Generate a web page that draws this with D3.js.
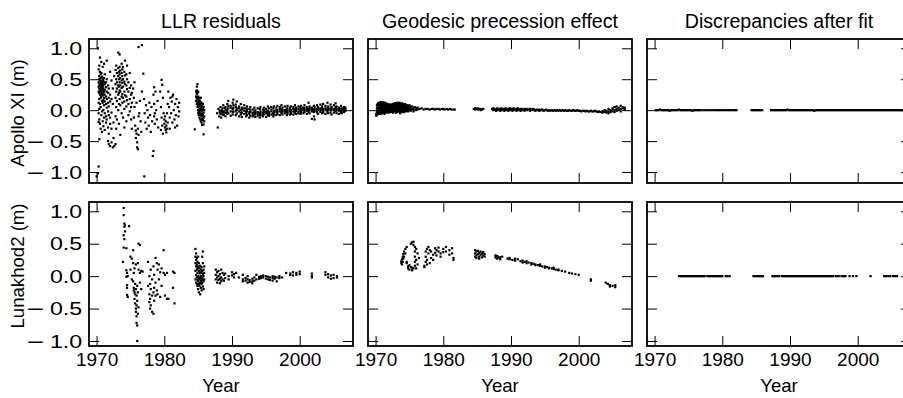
<!DOCTYPE html>
<html><head><meta charset="utf-8">
<script src="https://cdn.jsdelivr.net/npm/d3@7"></script>
<style>
body{margin:0;background:#fff}
svg{display:block}
text{font-family:"Liberation Sans",Arial,Helvetica,sans-serif;fill:#000}
</style>
</head><body>
<svg id="c" width="903" height="398"></svg>
<script>
// ---- labels / ticks ----
const panelTitles = ["LLR residuals", "Geodesic precession effect", "Discrepancies after fit"];
const rowLabels = ["Apollo XI (m)", "Lunakhod2 (m)"];
const xLabel = "Year";
const xTicks = [1970, 1980, 1990, 2000];
const yTicks = [-1, -0.5, 0, 0.5, 1];
const xDomain = [1968.88, 2007.87];
const yDomains = [[-1.177, 1.15], [-1.077, 1.143]];

// ---- data: [year, value, value, ...] (observations grouped by date) ----
const apolloRes = [
[1970.0,-1.07],[1970.2,1.0,-1.02],
[1970.3,-0.91,-0.19,0.66,0.45,0.38,0.30,0.12,-0.05],
[1970.4,-0.47,0.72,0.55,0.50,0.42,0.35,0.28,0.18,0.02,-0.15],
[1970.5,0.85,0.62,0.48,0.40,0.33,0.25,0.10,-0.22],
[1970.6,0.58,0.52,0.44,0.37,0.31,0.20,0.05,-0.30],
[1970.7,0.78,0.60,0.47,0.41,0.36,0.29,0.22,-0.08],
[1970.8,0.54,0.46,0.39,0.34,0.26,0.15,-0.02,-0.35],
[1970.9,0.70,0.50,0.43,0.38,0.32,0.24,0.12,-0.18],
[1971.0,0.48,0.40,0.35,0.28,0.16,0.0,-0.26],
[1971.1,0.75,0.52,0.45,0.30,0.20,0.08,-0.12],
[1971.2,0.58,0.42,0.33,0.25,0.14,-0.05,-0.32],
[1971.4,0.45,0.37,0.22,0.10,-0.10,-0.2],
[1971.5,0.80,0.50,0.30,0.18,0.04,-0.15],
[1971.7,0.40,0.28,0.12,-0.02,-0.28,-0.50],
[1971.8,0.35,0.20,0.06,-0.08,-0.38,-0.55],
[1972.0,0.62,0.25,0.14,-0.12,-0.22,-0.58],
[1972.2,0.48,0.18,-0.04,-0.30,-0.52],
[1972.4,0.35,0.1,-0.6],[1972.5,-0.45,-0.2],[1972.6,-0.58,0.55],
[1972.8,0.65,0.42,0.2,-0.1,-0.55],
[1972.9,0.72,0.5,0.3,0.05,-0.3],
[1973.0,0.6,0.45,0.35,0.15,-0.15],
[1973.2,0.93,0.68,0.55,0.4,0.25,0.0],
[1973.3,0.62,0.5,0.38,0.28,0.1,-0.22],
[1973.4,0.9,0.7,0.58,0.45,0.32,0.18],
[1973.5,0.64,0.52,0.4,0.3,0.08,-0.4],
[1973.7,0.75,0.6,0.48,0.36,0.22,-0.05],
[1973.8,0.66,0.55,0.44,0.26,0.12],
[1973.9,0.7,0.5,0.38,0.2,-0.12],
[1974.1,0.62,0.46,0.3,0.14,0.02,-0.28],
[1974.2,0.8,0.56,0.42,0.24],
[1974.4,0.58,0.4,0.22,0.06,-0.18],
[1974.5,0.72,0.5,0.34,0.16],
[1974.7,0.45,0.3,0.1,-0.08],
[1974.9,0.6,0.36,0.18,-0.02],
[1975.1,0.4,0.25,0.05,-0.15],
[1975.2,0.28,0.12,-0.3],
[1975.4,0.35],[1975.5,0.2,-0.12],[1975.6,0.05,0.45],[1975.7,-0.25],[1975.8,-0.33,-0.45],
[1975.9,-0.38,0.12],[1976.0,-0.52,-0.6],[1976.1,-0.63,-0.3],[1976.2,1.02,-0.4,-0.1],
[1976.3,-0.05],[1976.4,0.15],[1976.5,-0.18],[1976.6,-0.35],[1976.7,1.05,0.3],[1976.9,0.59],
[1977.0,0.18],[1977.05,-1.07],[1977.1,-0.05],[1977.2,-0.2],[1977.3,0.08],[1977.4,-0.3],
[1977.5,0.0],[1977.6,-0.12],[1977.7,-0.25],[1977.8,0.12],[1977.9,-0.08],[1978.0,-0.35],
[1978.1,0.05],[1978.2,-0.18],[1978.3,-0.74],[1978.4,-0.66,0.25],[1978.5,0.37,0.1,-0.1],
[1978.6,-0.22,-0.05],[1978.7,0.3],[1978.8,0.0],[1978.9,-0.15],[1979.0,0.15],[1979.1,-0.28],
[1979.4,0.3],[1979.5,0.05,-0.32],[1979.6,0.49,-0.12],[1979.7,0.41,-0.25],[1979.8,0.2,-0.38],
[1979.9,-0.05],[1980.0,-0.15,-0.22],[1980.1,-0.28,-0.1],[1980.2,-0.32,-0.18],[1980.3,-0.25,-0.36],
[1980.4,-0.05,-0.3],[1980.5,0.1,-0.2],[1980.6,0.3],[1980.7,0.05],[1980.8,-0.12,-0.3],[1980.9,0.2],
[1981.0,-0.05],[1981.1,0.14],[1981.2,-0.2,0.22],[1981.3,0.25],[1981.4,0.0],[1981.5,-0.15],
[1981.6,0.1,-0.28],[1981.7,-0.08],[1981.8,0.18],[1981.9,-0.25],[1982.0,0.05],[1982.1,-0.1],[1982.2,0.12,-0.02],
[1984.5,-0.31],
[1984.7,0.3,0.22,0.15],[1984.8,0.38,0.32,0.26,0.2,0.1],[1984.9,0.42,0.28,0.18,0.12,0.05],
[1985.0,0.3,0.22,0.14,0.08,0.0,-0.05],[1985.1,0.2,0.12,0.06,-0.02,-0.08],[1985.2,0.16,0.1,0.03,-0.04,-0.12],
[1985.3,0.14,0.07,0.0,-0.06,-0.15],[1985.4,0.2,0.1,0.02,-0.08,-0.18],[1985.5,0.12,0.05,-0.02,-0.1,-0.2],
[1985.6,0.08,0.0,-0.06,-0.14,-0.24],[1985.7,0.1,0.02,-0.08,-0.16],[1985.8,0.05,-0.04,-0.12,-0.23,-0.39],
[1985.9,0.0,-0.1,-0.18],
[1987.8,-0.05],[1987.9,-0.28],[1988.0,0.02],[1988.1,-0.1],
[1988.2,-0.04,-0.01],[1988.3,0.05,-0.06],[1988.4,-0.12,-0.02],[1988.5,0.0,-0.05],[1988.6,-0.07,0.03],[1988.7,0.08,-0.03],[1988.8,-0.02,-0.08],[1988.9,0.04,-0.04],
[1989.05,0.05,-0.04,-0.10,0.01],[1989.3,0.10,0.0,-0.06,-0.03],[1989.45,0.15,0.03,-0.05,0.07],[1989.8,0.07,-0.02,-0.09,0.04],
[1990.1,0.12,0.02,-0.07,-0.02],[1990.2,0.17,0.04,-0.03,0.08],[1990.55,0.09,-0.01,-0.08,0.05],[1990.7,0.14,0.03,-0.05,0.0],
[1991.05,0.06,-0.02,-0.1,0.03],[1991.3,0.1,0.0,-0.07,-0.04],[1991.45,0.04,-0.04,-0.11,0.01],[1991.8,0.08,-0.01,-0.06,0.03],
[1992.1,0.03,-0.05,-0.1,-0.02],[1992.2,0.06,-0.02,-0.08,0.01],[1992.55,0.02,-0.06,-0.12,-0.03],[1992.7,0.05,-0.03,-0.09,0.0],
[1993.05,0.01,-0.04,-0.1,-0.07],[1993.3,0.04,-0.02,-0.08,-0.05],[1993.45,0.0,-0.06,-0.11,-0.03],[1993.8,0.03,-0.03,-0.09,-0.06],
[1994.1,0.02,-0.05,-0.12,-0.08],[1994.2,0.05,-0.02,-0.08,-0.05],[1994.55,0.01,-0.04,-0.1,-0.07],[1994.7,0.04,-0.03,-0.07,0.0],
[1995.05,0.02,-0.05,-0.11,-0.02],[1995.3,0.06,-0.01,-0.08,-0.04],[1995.45,0.03,-0.03,-0.09,-0.06],[1995.8,0.05,-0.02,-0.07,0.01],
[1996.1,0.03,-0.04,-0.1,-0.06],[1996.2,0.06,-0.01,-0.07,-0.04],[1996.55,0.04,-0.03,-0.08,0.0],[1996.7,0.07,0.0,-0.06,-0.03],
[1997.05,0.05,-0.02,-0.08,0.02],[1997.3,0.08,0.01,-0.05,-0.02],[1997.45,0.04,-0.02,-0.07,0.0],[1997.8,0.06,0.0,-0.05,-0.03],
[1998.1,0.03,-0.03,-0.08,0.0],[1998.2,0.07,0.01,-0.05,-0.02],[1998.55,0.04,-0.02,-0.07,0.02],[1998.7,0.06,0.0,-0.06,-0.03],
[1999.05,0.05,-0.02,-0.07,0.02],[1999.3,0.08,0.01,-0.04,-0.02],[1999.45,0.04,-0.01,-0.06,0.02],[1999.8,0.06,0.02,-0.05,-0.02],
[2000.1,0.05,-0.01,-0.06,0.02],[2000.2,0.07,0.02,-0.04,-0.01],[2000.55,0.04,0.0,-0.05,0.03],[2000.7,0.08,0.03,-0.03,0.0],
[2001.05,0.05,-0.01,-0.06,0.02],[2001.3,0.12,0.02,-0.04,-0.01],[2001.45,0.06,0.0,-0.05,0.03],[2001.8,0.04,-0.02,-0.14,0.01],
[2002.1,0.07,0.01,-0.1,-0.03],[2002.2,0.05,-0.01,-0.15,0.02],[2002.55,0.08,0.02,-0.04,-0.01],[2002.7,0.05,0.0,-0.06,0.03],
[2003.05,0.09,0.03,-0.03,0.0],[2003.3,0.06,0.01,-0.05,0.03],[2003.45,0.1,0.02,-0.04,-0.01],[2003.8,0.07,0.0,-0.06,0.03],
[2004.1,0.12,0.03,-0.03,0.0],[2004.2,0.06,0.01,-0.05,0.04],[2004.55,0.09,0.02,-0.04,0.0],[2004.7,0.05,0.0,-0.07,0.03],
[2005.05,0.08,0.02,-0.04,0.0],[2005.3,0.11,0.03,-0.02,0.05],[2005.45,0.06,0.0,-0.05,0.02],[2005.8,0.04,-0.01,-0.06,0.02],
[2006.1,0.07,0.01,-0.04,-0.01],[2006.2,0.03,-0.02,-0.05,0.01],[2006.55,0.05,0.0,-0.03,0.02],[2006.75,0.02,-0.01,0.04]
];

const apolloGeo = [
[1970.1,-0.06,-0.09],[1970.2,0.08,0.03,-0.01,-0.05],[1970.3,0.1,0.06,0.02,-0.03,-0.07],[1970.4,0.11,0.07,0.04,0.0,-0.05],
[1970.5,0.12,0.08,0.04,0.0,-0.04],[1970.6,0.1,0.06,0.02,-0.02,-0.06],
[1970.7,0.13,0.09,0.05,0.01,-0.03,-0.06],[1970.8,0.11,0.07,0.03,-0.02,-0.05],[1970.9,0.11,0.07,0.03,-0.01,-0.05],
[1971.0,0.13,0.09,0.05,0.01,-0.03],[1971.1,0.12,0.08,0.04,0.0,-0.04],[1971.2,0.1,0.05,0.02,-0.03],
[1971.3,0.1,0.06,0.02,-0.02,-0.06],[1971.4,0.12,0.08,0.04,0.0],[1971.5,0.11,0.07,0.03,-0.01,-0.04],[1971.6,0.09,0.05,0.01,-0.03],[1971.7,0.09,0.05,0.01,-0.03],
[1971.8,0.1,0.06,0.02,-0.02],[1971.9,0.08,0.04,0.0,-0.04],[1972.0,0.09,0.05,0.01,-0.03],[1972.1,0.07,0.03,-0.02],
[1972.2,0.09,0.05,0.01,-0.03],[1972.3,0.08,0.04,0.0],[1972.4,0.06,0.02,-0.03],[1972.5,0.1,0.06,0.02,-0.02],
[1972.6,0.09,0.05,0.01,-0.04],[1972.7,0.08,0.03,-0.01],[1972.8,0.11,0.07,0.03,-0.01],
[1972.9,0.1,0.06,0.02,-0.02],[1973.0,0.11,0.07,0.03,-0.01,-0.04],[1973.1,0.09,0.05,0.01,-0.03],[1973.2,0.12,0.08,0.04,0.0,-0.03],[1973.3,0.11,0.07,0.03,-0.01],[1973.4,0.1,0.06,0.02,-0.02],
[1973.5,0.12,0.08,0.04,0.0],[1973.6,0.11,0.07,0.03,-0.01,-0.05],[1973.7,0.09,0.05,0.01,-0.03],[1973.8,0.09,0.05,0.01,-0.03],[1973.9,0.11,0.07,0.03,-0.01],[1974.0,0.1,0.06,0.02,-0.02],
[1974.1,0.08,0.04,0.0,-0.03],[1974.2,0.08,0.04,0.0,-0.03],[1974.3,0.1,0.06,0.02],[1974.4,0.09,0.05,0.01,-0.02],[1974.5,0.07,0.03,-0.01],[1974.6,0.07,0.03,-0.01],[1974.7,0.08,0.04,0.0],[1974.8,0.06,0.02,-0.02],
[1974.9,0.05,0.01],[1975.0,0.08,0.04,0.0],[1975.1,0.06,0.03],[1975.2,0.05,0.02,-0.01],[1975.4,0.06,0.02],[1975.6,0.04,0.01,-0.02],[1975.8,0.05,0.01],
[1976.0,0.03,0.0],[1976.2,0.04,0.01],[1976.5,0.02],[1976.8,0.03],[1977.1,0.01],[1977.4,0.02],[1977.7,0.02],
[1978.0,0.01],[1978.3,0.02],[1978.5,0.02],[1978.8,0.01],[1979.0,0.02],[1979.3,0.02],[1979.5,0.01],[1979.8,0.02],
[1980.0,0.02],[1980.2,0.01],[1980.5,0.02],[1980.7,0.01],[1981.0,0.02],[1981.2,0.01],[1981.5,0.01],[1981.7,0.01],
[1984.5,0.02],[1984.7,0.03,0.01],[1984.9,0.02],[1985.1,0.03,0.01],[1985.3,0.02],[1985.5,0.02,0.0],[1985.7,0.01],[1985.9,0.02],
[1987.2,0.02],[1987.4,0.0,0.03],[1987.6,0.01],[1987.8,0.02,-0.01],[1988.0,0.03,0.0],[1988.2,0.01],[1988.4,0.02,-0.01],
[1988.6,0.03,0.0],[1988.8,0.01],[1989.0,0.02,-0.01],[1989.2,0.03,0.0],[1989.4,0.01],[1989.6,0.02,-0.01],[1989.8,0.03,0.0],
[1990.0,0.01,0.02],[1990.2,0.02,-0.01],[1990.4,0.03,0.0],[1990.6,0.01],[1990.8,0.02,-0.01],[1991.0,0.03,0.0],[1991.2,0.01],
[1991.4,0.02,-0.01],[1991.6,0.02,0.0],[1991.8,0.01],[1992.0,0.02,-0.01],[1992.2,0.01],[1992.4,0.02,0.0],[1992.6,0.01],
[1992.8,0.02,-0.01],[1993.0,0.01],[1993.2,0.0,0.02],[1993.4,0.01],[1993.6,0.0,-0.01],[1993.8,0.01],[1994.0,0.0],
[1994.2,0.01,-0.01],[1994.4,0.0],[1994.6,0.01],[1994.8,0.0,-0.01],[1995.0,0.0],[1995.2,0.01],[1995.4,-0.01],[1995.6,0.0],
[1995.8,-0.01],[1996.0,0.0],[1996.2,-0.01],[1996.4,0.0],[1996.6,-0.01],[1996.8,0.0],[1997.0,-0.01],[1997.2,0.0],
[1997.4,-0.01],[1997.6,0.0],[1997.8,-0.01],[1998.0,0.0],[1998.2,-0.01],[1998.4,-0.01],[1998.6,0.0],[1998.8,-0.01],
[1999.0,-0.01],[1999.2,0.0],[1999.4,-0.01],[1999.6,-0.01],[1999.8,0.0],[2000.0,-0.01],[2000.2,-0.01],[2000.4,-0.02],
[2000.6,-0.01],[2000.8,-0.01],[2001.0,-0.02],[2001.2,-0.01],[2001.4,-0.02],[2001.6,-0.02],[2001.8,-0.01],[2002.0,-0.02],
[2002.2,-0.02],[2002.4,-0.01],[2002.6,-0.02],[2002.8,-0.03],[2003.0,-0.02],[2003.2,-0.03],[2003.5,-0.02,-0.04],
[2003.8,-0.03,0.0],[2004.1,-0.04,-0.01],[2004.4,-0.02,0.02,-0.05],[2004.7,0.0,-0.03],[2005.0,0.03,-0.02,0.01],
[2005.3,0.05,0.0,-0.03],[2005.6,0.02,0.06,-0.01],[2005.9,0.04,0.0],[2006.2,0.07,0.02,-0.02],[2006.5,0.03,0.05],[2006.8,0.01,0.04]
];

const apolloDisc = [
[1970.2,0],[1970.4,0],[1970.6,0],[1970.8,0.01],[1971.0,0],[1971.2,0],[1971.4,0],[1971.6,0],
[1971.8,0],[1972.0,0],[1972.2,-0.01],[1972.4,0],[1972.6,0],[1972.8,0],[1973.0,0],[1973.2,0],
[1973.4,0],[1973.6,0.01],[1973.8,0],[1974.0,0],[1974.2,0],[1974.4,0],[1974.6,0],[1974.8,0],
[1975.0,0],[1975.2,0],[1975.4,0],[1975.6,-0.01],[1975.8,0],[1976.0,0],[1976.2,0],[1976.4,0],
[1976.6,0],[1976.8,0],
[1977.1,0],[1977.4,0],[1977.7,0],[1978.0,0],[1978.3,0],[1978.6,0],[1978.9,0],[1979.2,0],
[1979.5,0],[1979.8,0],[1980.1,0],[1980.4,0],[1980.7,0],[1981.0,0],[1981.3,0],[1981.6,0],[1981.9,0],[1982.1,0],
[1984.3,0],[1984.5,0],[1984.7,0],[1984.9,0],[1985.1,0],[1985.3,0],[1985.5,0],[1985.7,0],[1985.9,0],
[1987.2,0],[1987.4,0],[1987.6,0],[1987.8,0],[1988.0,0],[1988.2,0],[1988.4,0],[1988.6,0],[1988.8,0],
[1989.0,0],[1989.2,0],[1989.4,0],[1989.6,0.01],[1989.8,0],[1990.0,0],[1990.2,0],[1990.4,0],[1990.6,0],
[1990.8,0],[1991.0,0],[1991.2,0],[1991.4,0],[1991.6,0],[1991.8,0],[1992.0,0],[1992.2,0],[1992.4,0],
[1992.6,0],[1992.8,0],[1993.0,0],[1993.2,0],[1993.4,0],[1993.6,-0.01],[1993.8,0],[1994.0,0],[1994.2,0],
[1994.4,0],[1994.6,0],[1994.8,0],[1995.0,0],[1995.2,0],[1995.4,0],[1995.6,0],[1995.8,0],[1996.0,0],
[1996.2,0],[1996.4,0],[1996.6,0],[1996.8,0],[1997.0,0],[1997.2,0],[1997.4,0],[1997.6,0],[1997.8,0],
[1998.0,0],[1998.2,0],[1998.4,0],[1998.6,0],[1998.8,0],[1999.0,0],[1999.2,0],[1999.4,0],[1999.6,0],
[1999.8,0],[2000.0,0],[2000.2,0],[2000.4,0],[2000.6,0],[2000.8,0],[2001.0,0],[2001.2,0],[2001.4,0],
[2001.6,0],[2001.8,0],[2002.0,0],[2002.2,0],[2002.4,0],[2002.6,0],[2002.8,0],[2003.0,0],[2003.2,0],
[2003.4,0],[2003.6,0],[2003.8,0],[2004.0,0],[2004.2,0],[2004.4,0],[2004.6,0],[2004.8,0],[2005.0,0],
[2005.2,0],[2005.4,0],[2005.6,0],[2005.8,0],[2006.0,0],[2006.2,0],[2006.4,0],[2006.6,0],[2006.8,0],[2007.0,0]
];

const lunaRes = [
[1973.9,0.22],[1974.0,1.05,0.94,0.63,0.44],[1974.1,0.81,0.76,0.57],[1974.2,0.69,0.78],
[1974.4,0.43,0.09,-0.01],[1974.5,-0.14,-0.29,0.05,-0.18],[1974.6,-0.32,0.0],[1974.8,0.77],
[1975.0,0.3,0.1],[1975.2,0.27,-0.05],[1975.4,0.4,0.2,-0.08],[1975.5,-0.18,-0.22,0.05],
[1975.6,-0.25,-0.35,0.12],[1975.7,-0.12,-0.42,-0.28],[1975.8,-0.5,-0.55,0.18,-0.2],
[1975.9,-0.62,-0.72,-0.3,-0.45],[1976.0,-0.76,-1.0,-0.15,-0.38],[1976.1,-0.58,0.2,-0.25],
[1976.2,-0.48,0.5,0.1],[1976.4,0.48,-0.1,0.05],[1976.6,-0.2,0.08],[1976.8,0.07],
[1977.6,0.22,-0.15],[1977.8,0.0,-0.28,-0.4],[1977.9,-0.12,-0.35,-0.5],[1978.0,-0.2,-0.45,0.1],
[1978.2,-0.3,-0.55,-0.05],[1978.4,-0.58,-0.25,0.15],[1978.5,-0.18,-0.38,0.02],[1978.7,0.28,-0.1,-0.3],
[1978.9,0.2,-0.22],[1979.0,0.1,-0.28],[1979.2,0.18,-0.05],[1979.4,0.06,-0.32],[1979.6,0.12,-0.15],
[1979.9,0.4,0.05],[1980.1,-0.3,0.02],[1980.4,-0.35,0.05],[1980.6,-0.35],[1981.3,0.07,-0.18],[1981.5,-0.42,0.05],
[1984.6,0.42,0.3,0.2,0.08,-0.05],[1984.7,0.35,0.25,0.15,0.02,-0.1],[1984.8,0.28,0.18,0.1,-0.02,-0.12],
[1984.9,0.22,0.12,0.05,-0.06,-0.15],[1985.0,0.3,0.15,0.0,-0.08,-0.2],[1985.1,0.2,0.08,-0.03,-0.12,-0.25],
[1985.2,0.12,0.04,-0.05,-0.15],[1985.3,0.16,0.06,-0.02,-0.1,-0.28],[1985.4,0.1,0.0,-0.07,-0.18],
[1985.5,0.14,0.05,-0.04,-0.12,-0.22],[1985.6,0.3,0.08,-0.02,-0.1],[1985.7,0.38,0.2,0.03,-0.06,-0.16],
[1985.8,0.1,0.0,-0.08,-0.2],[1985.9,0.15,0.05,-0.05],
[1987.6,0.1,0.02,-0.05],[1987.8,0.06,-0.02,-0.1],[1988.0,0.08,0.0,-0.06],[1988.2,0.03,-0.04,-0.11],
[1988.4,0.1,-0.02,-0.08],[1988.6,0.05,-0.05],[1988.8,0.02,-0.07],[1989.0,0.04,-0.03],[1989.5,0.0,-0.05],
[1990.0,0.06,0.01],[1990.3,0.03,-0.02],[1990.6,0.05],[1991.0,-0.02],[1991.6,-0.05,-0.08,0.02],
[1992.0,-0.07,-0.03],[1992.3,-0.1,-0.05,0.0],[1992.6,-0.06,-0.09],[1993.0,-0.04,-0.08,-0.11],
[1993.3,-0.02,-0.07],[1993.6,0.02,-0.05],[1994.0,-0.01,-0.04],[1994.3,0.0,-0.03],[1994.6,-0.02,0.01],
[1995.0,-0.04,0.0],[1995.3,-0.01,-0.05],[1995.6,-0.06,-0.02],[1996.0,-0.03,0.0,-0.07],[1996.3,-0.01,-0.04],
[1996.6,-0.08,-0.02],[1997.0,0.0,-0.03],[1997.4,-0.02],[1998.0,0.05],[1998.6,0.04,0.02],[1999.0,0.06,0.01],
[1999.5,0.05,0.02],[2000.0,0.07,0.03],[2001.8,0.04,0.0,-0.02],[2003.8,0.06,0.02],[2004.2,0.03,-0.02],
[2004.6,0.01,-0.04],[2005.0,0.02,-0.03],[2005.5,0.0,-0.02]
];

const lunaGeo = [
[1973.8,0.2,0.23],[1973.9,0.26,0.18],[1974.0,0.3,0.22],[1974.1,0.34,0.27],[1974.2,0.38,0.3],
[1974.4,0.42,0.35],[1974.6,0.45,0.22,0.2],[1974.8,0.15,0.12],[1975.0,0.17,0.1],[1975.2,0.5,0.14],
[1975.4,0.52,0.13,0.09],[1975.6,0.53,0.48,0.12],[1975.8,0.45,0.38,0.3,0.22,0.16],[1976.0,0.42,0.25,0.12],
[1976.2,0.35,0.18],[1976.4,0.28],[1977.2,0.16,0.14],[1977.4,0.22,0.3,0.38],[1977.6,0.42,0.25,0.18],
[1977.8,0.45,0.35],[1978.0,0.4,0.2],[1978.2,0.38,0.28],[1978.5,0.33,0.25],[1978.8,0.43,0.36],
[1979.0,0.4,0.32],[1979.3,0.38,0.44],[1979.6,0.35,0.3],[1980.0,0.42,0.37],[1980.4,0.45,0.38],
[1980.9,0.4,0.33],[1981.3,0.43,0.35],[1981.5,0.28,0.25],
[1984.7,0.4,0.35,0.3],[1984.9,0.38,0.32,0.28],[1985.1,0.39,0.34],[1985.3,0.36,0.3,0.27],[1985.5,0.38,0.33],
[1985.7,0.35,0.29],[1985.9,0.37,0.32],[1986.1,0.34,0.3],
[1987.7,0.32,0.29],[1987.9,0.31,0.27],[1988.1,0.3,0.28],[1988.4,0.29,0.26],[1988.7,0.3],[1989.5,0.27],
[1989.8,0.26,0.28],[1990.2,0.25],[1990.6,0.27,0.24],[1991.0,0.26],[1991.4,0.23],[1991.7,0.24,0.21],
[1992.0,0.22],[1992.3,0.23,0.2],[1992.6,0.21],[1993.0,0.2,0.18],[1993.3,0.19],[1993.6,0.18,0.17],
[1994.0,0.17],[1994.3,0.16,0.18],[1994.6,0.15],[1995.0,0.15,0.13],[1995.3,0.14],[1995.6,0.13,0.12],
[1996.0,0.12],[1996.3,0.11,0.13],[1996.6,0.1],[1997.0,0.1,0.09],[1997.5,0.08],[1998.0,0.07],[1998.6,0.05],
[1999.0,0.04],[1999.5,0.03],[2000.0,0.02],[2001.8,-0.05,-0.07],[2004.0,-0.1],[2004.3,-0.12],
[2004.6,-0.14,-0.16],[2005.0,-0.15],[2005.4,-0.17,-0.14]
];

const lunaDisc = [
[1973.6,0],[1973.8,0],[1974.0,0],[1974.2,0],[1974.4,0],[1974.6,0],[1974.8,0],[1975.0,0],
[1975.2,0],[1975.4,0],[1975.6,0],[1975.8,0],[1976.0,0],[1976.2,0],[1976.4,0],[1976.6,0],
[1976.8,0],[1977.0,0],[1977.2,0],[1977.4,0],
[1977.8,0],[1978.0,0],[1978.2,0],[1978.4,0],[1978.6,0],[1978.8,0],[1979.0,0],[1979.2,0],
[1979.4,0],[1979.6,0],[1979.8,0],[1980.0,0],
[1980.5,0],[1980.8,0],[1981.1,0],
[1984.6,0],[1984.8,0],[1985.0,0],[1985.2,0],[1985.4,0],[1985.6,0],[1985.8,0],[1986.0,0],
[1987.4,0],[1987.6,0],[1987.8,0],[1988.0,0],[1988.2,0],[1988.4,0],[1988.8,0],[1989.0,0],
[1989.2,0],[1989.4,0],[1989.6,0],[1989.8,0],[1990.0,0],[1990.2,0],[1990.4,0],[1990.6,0],
[1990.8,0],[1991.0,0],[1991.2,0],[1991.4,0],[1991.6,0],[1991.8,0],[1992.0,0],[1992.2,0],
[1992.4,0],[1992.6,0],[1992.8,0],[1993.0,0],[1993.2,0],[1993.4,0],[1993.6,0],[1993.8,0],
[1994.0,0],[1994.2,0],[1994.4,0],[1994.6,0],[1994.8,0],[1995.0,0],[1995.2,0],[1995.4,0],
[1995.6,0],[1995.8,0],[1996.0,0],[1996.2,0],[1996.4,0],[1996.8,0],[1997.0,0],[1997.2,0],
[1997.6,0],[1997.8,0],[1998.0,0],[1998.2,0],
[1998.8,0],[1999.3,0],[1999.8,0],[2001.9,0],[2003.9,0],[2004.2,0],[2004.5,0],[2004.8,0],
[2005.2,0],[2005.5,0],[2005.8,0]
];

// ---- layout ----
const panelX = [89, 368, 647], panelY = [39, 202], W = 264, H = 144;
const tickLen = 10, tickFont = 19, labelFont = 18.6, titleFont = 19.6, dot = 2.2, yStretch = 1.22;

const grid = [[apolloRes, apolloGeo, apolloDisc], [lunaRes, lunaGeo, lunaDisc]];
const flat = groups => groups.flatMap(([t, ...vs]) => vs.map(v => [t, v]));

const svg = d3.select("#c");
const x = d3.scaleLinear().domain(xDomain).range([0, W]);
const yFmt = d3.format(".1f");

function styleAxis(g, showText) {
  g.select(".domain").remove();
  g.attr("font-size", tickFont).attr("font-family", null);
  g.selectAll(".tick line").attr("stroke-width", 1);
  if (!showText) g.selectAll(".tick text").remove();
}
function stretchY(g) {
  g.selectAll(".tick text").each(function (d) {
    const t = d3.select(this).text("").attr("x", -6.8 / yStretch)
      .attr("transform", `scale(${yStretch},1)`);
    if (d < 0) {
      t.append("tspan").attr("font-family", "'DejaVu Sans'").text("\u2212");
      t.append("tspan").attr("dx", 4).text(yFmt(-d));
    } else {
      t.append("tspan").text(yFmt(d));
    }
  });
}

grid.forEach((row, r) => {
  const y = d3.scaleLinear().domain(yDomains[r]).range([H, 0]);
  row.forEach((series, c) => {
    const g = svg.append("g").attr("transform", `translate(${panelX[c]},${panelY[r]})`);

    g.append("g")
      .selectAll("rect").data(flat(series)).join("rect")
      .attr("x", d => x(d[0]) - dot / 2).attr("y", d => y(d[1]) - dot / 2)
      .attr("width", dot).attr("height", dot).attr("fill", "#000");

    g.append("g").attr("transform", `translate(0,${H})`)
      .call(d3.axisBottom(x).tickValues(xTicks).tickSizeInner(-tickLen).tickSizeOuter(0).tickPadding(7).tickFormat(d3.format("d")))
      .call(a => styleAxis(a, r === 1));
    g.append("g")
      .call(d3.axisTop(x).tickValues(xTicks).tickSizeInner(-tickLen).tickSizeOuter(0))
      .call(a => styleAxis(a, false));
    const left = g.append("g")
      .call(d3.axisLeft(y).tickValues(yTicks).tickSizeInner(-tickLen).tickSizeOuter(0).tickPadding(7).tickFormat(yFmt))
      .call(a => styleAxis(a, c === 0));
    if (c === 0) left.call(stretchY);
    g.append("g").attr("transform", `translate(${W},0)`)
      .call(d3.axisRight(y).tickValues(yTicks).tickSizeInner(-tickLen).tickSizeOuter(0))
      .call(a => styleAxis(a, false));

    g.append("rect").attr("width", W).attr("height", H)
      .attr("fill", "none").attr("stroke", "#000").attr("stroke-width", 1.8);
  });
});

// titles
panelTitles.forEach((t, c) => {
  svg.append("text").attr("x", panelX[c] + W / 2).attr("y", 28)
    .attr("text-anchor", "middle").attr("font-size", titleFont).text(t);
  svg.append("text").attr("x", panelX[c] + W / 2).attr("y", 392)
    .attr("text-anchor", "middle").attr("font-size", labelFont).text(xLabel);
});
const rowCenters = [113, 266];
rowLabels.forEach((t, r) => {
  svg.append("text").attr("transform", `translate(23.5,${rowCenters[r]}) rotate(-90)`)
    .attr("text-anchor", "middle").attr("font-size", labelFont).text(t);
});
</script>
</body></html>
